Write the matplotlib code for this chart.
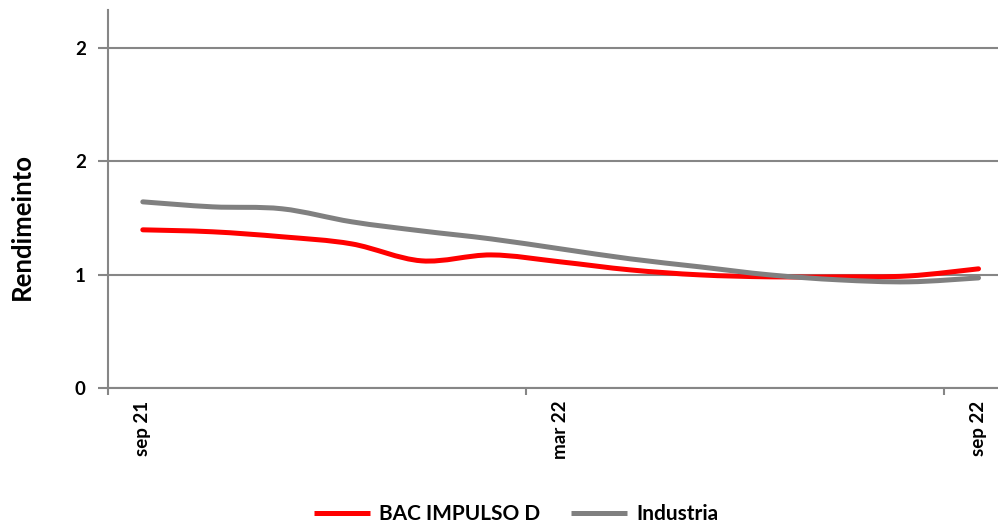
import numpy as np
import matplotlib
matplotlib.use('Agg')
import matplotlib.pyplot as plt
from matplotlib.path import Path
from matplotlib.patches import PathPatch
from matplotlib.lines import Line2D
from matplotlib.ticker import FormatStrFormatter


months = ['sep 21', 'oct 21', 'nov 21', 'dic 21', 'ene 22', 'feb 22', 'mar 22',
          'abr 22', 'may 22', 'jun 22', 'jul 22', 'ago 22', 'sep 22']
bac = [1.046, 1.033, 1.000, 0.953, 0.841, 0.880, 0.834, 0.781, 0.748, 0.735, 0.735, 0.741, 0.788]
industria = [1.231, 1.198, 1.185, 1.099, 1.039, 0.986, 0.920, 0.854, 0.801, 0.748, 0.715, 0.702, 0.728]
shown_labels = ['sep 21', 'mar 22', 'sep 22']


def smooth_path(xs, ys):
    '''Bezier path through the points, like a spreadsheet "smoothed line"'''
    pts = np.column_stack([xs, ys]).astype(float)
    n = len(pts)
    verts = [pts[0]]
    codes = [Path.MOVETO]
    for i in range(n - 1):
        p_prev = pts[i - 1] if i > 0 else pts[i]
        p_next2 = pts[i + 2] if i + 2 < n else pts[i + 1]
        c1 = pts[i] + (pts[i + 1] - p_prev) / 6
        c2 = pts[i + 1] - (p_next2 - pts[i]) / 6
        verts += [c1, c2, pts[i + 1]]
        codes += [Path.CURVE4] * 3
    return Path(verts, codes)


plt.rcParams['font.family'] = ['Lato', 'DejaVu Sans']

fig = plt.figure(figsize=(9.98, 5.25), dpi=100)
ax = fig.add_axes([0.1082, 0.261, 0.8918, 0.72])

x = np.arange(len(months))
grey = '#868686'
for series, col in [(bac, '#ff0000'), (industria, '#808080')]:
    ax.add_patch(PathPatch(smooth_path(x, series), fill=False, edgecolor=col,
                           linewidth=3.6, capstyle='round', joinstyle='round', zorder=3))

ax.set_ylim(0, 2.5)
ax.set_xlim(-0.5, 12.28)
ax.set_yticks([0, 0.75, 1.5, 2.25])
ax.yaxis.set_major_formatter(FormatStrFormatter('%.0f'))
ax.grid(axis='y', color=grey, linewidth=1.5)
ax.set_axisbelow(True)

# tick marks between categories, labels on the categories
ax.set_xticks([-0.5, 5.5, 11.5])
ax.set_xticklabels([])
ax.set_xticks([months.index(m) for m in shown_labels], minor=True)
ax.set_xticklabels(shown_labels, minor=True, rotation=90, fontsize=13.5, fontweight='bold', va='top')
ax.tick_params(axis='x', which='major', length=5, width=1.5, color=grey, direction='out')
ax.tick_params(axis='x', which='minor', length=0, pad=9)
ax.tick_params(axis='y', length=7, width=1.5, color=grey, pad=9, labelsize=13.5)
for lab in ax.get_yticklabels():
    lab.set_fontweight('bold')

for s in ['top', 'right']:
    ax.spines[s].set_visible(False)
for s in ['left', 'bottom']:
    ax.spines[s].set_color(grey)
    ax.spines[s].set_linewidth(1.5)

fig.text(0.022, 0.5695, 'Rendimeinto', rotation=90, ha='center', va='center',
         fontsize=18.5, fontweight='bold')

handles = [Line2D([], [], color='#ff0000', linewidth=3.6, solid_capstyle='butt'),
           Line2D([], [], color='#808080', linewidth=3.6, solid_capstyle='butt')]
fig.legend(handles, ['BAC IMPULSO D', 'Industria'], loc='center', bbox_to_anchor=(0.517, 0.02),
           ncol=2, frameon=False, handlelength=2.7, handletextpad=0.45, columnspacing=1.45,
           prop={'size': 15, 'weight': 'bold'})

fig.savefig('out.png', dpi=100)
